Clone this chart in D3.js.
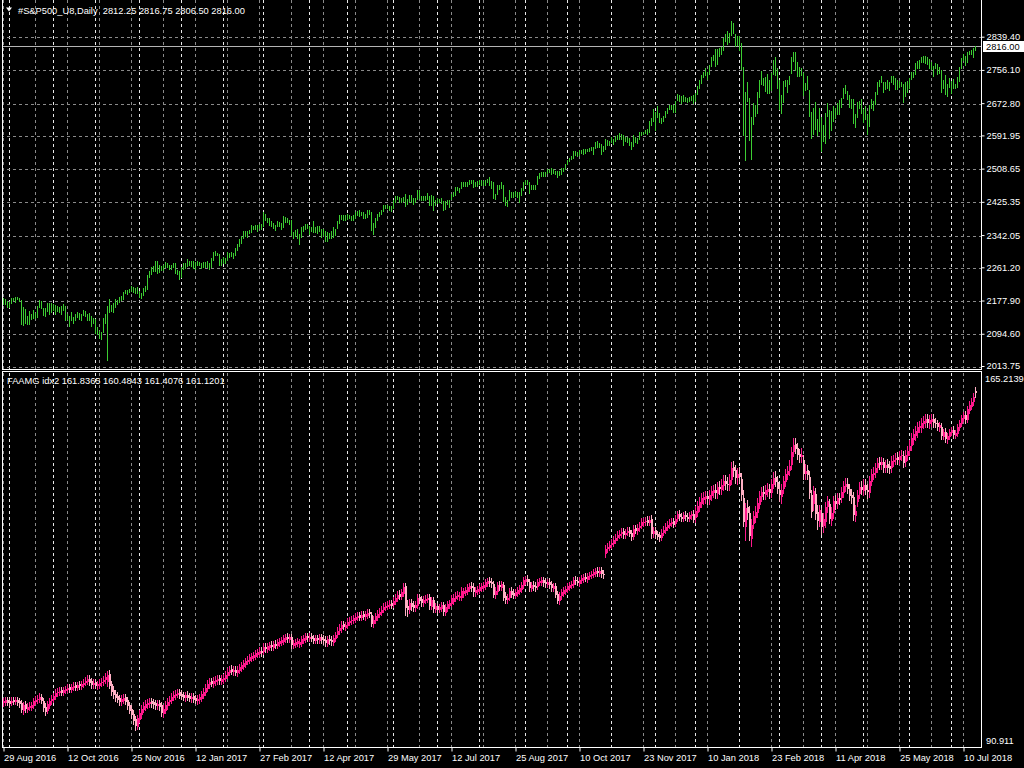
<!DOCTYPE html>
<html>
<head>
<meta charset="utf-8">
<script src="https://cdn.jsdelivr.net/npm/d3@7"></script>
<style>
    html, body { margin: 0; padding: 0; background: #000; }
    svg { display: block; font-family: "Liberation Sans", Arial, sans-serif; font-size: 9.3px; }
    text { fill: #fff; white-space: pre; }
</style>
</head>
<body>
<div id="chart-wrapper"></div>
<script>
(function (d3) {

    // S&P500 daily bars, one value per bar (Aug 2016 .. Jul 2018)
    var spxLow = [
        2170, 2170, 2161,
        2161, 2171, 2178, 2173, 2181, 2176, 2119, 2117, 2122, 2118, 2119, 2131, 2134, 2134, 2137, 2162, 2159, 2141, 2138, 2151, 2145, 2148,
        2155, 2145, 2151, 2149, 2143, 2155, 2128, 2131, 2114, 2129, 2122, 2130, 2137, 2132, 2130, 2141, 2138, 2130, 2129, 2115, 2121,
        2097, 2094, 2083, 2081, 2100, 2122, 2028, 2150, 2151, 2149, 2162, 2170, 2173, 2179, 2182, 2196, 2194, 2200, 2203, 2200, 2197, 2197,
        2187, 2183, 2192, 2202, 2208, 2236, 2244, 2251, 2253, 2248, 2249, 2254, 2254, 2261, 2261, 2256, 2258, 2262, 2248, 2244, 2232,
        2238, 2257, 2260, 2264, 2267, 2264, 2259, 2258, 2268, 2266, 2260, 2263, 2261, 2263, 2257, 2263, 2280, 2293, 2291, 2268, 2267,
        2271, 2272, 2280, 2288, 2289, 2285, 2293, 2305, 2315, 2321, 2334, 2339, 2338, 2348, 2350, 2357, 2356, 2352, 2359, 2356,
        2366, 2379, 2376, 2367, 2364, 2360, 2354, 2364, 2366, 2358, 2362, 2376, 2375, 2369, 2341, 2334, 2340, 2335, 2320, 2336, 2353, 2358, 2359,
        2345, 2351, 2350, 2350, 2348, 2351, 2336, 2341, 2328, 2327, 2335, 2334, 2337, 2343, 2360, 2372, 2382, 2381, 2380,
        2383, 2384, 2380, 2380, 2385, 2392, 2391, 2392, 2384, 2386, 2388, 2396, 2354, 2345, 2362, 2379, 2391, 2396, 2402, 2409, 2410, 2405, 2403,
        2410, 2424, 2432, 2425, 2425, 2427, 2414, 2419, 2428, 2426, 2419, 2424, 2433, 2435, 2429, 2430, 2430, 2433, 2417, 2418, 2404, 2417,
        2422, 2426, 2423, 2405, 2408, 2419, 2412, 2432, 2441, 2443, 2454, 2450, 2459, 2466, 2464, 2466, 2470, 2472, 2462, 2465, 2466,
        2469, 2467, 2468, 2468, 2474, 2468, 2460, 2436, 2432, 2445, 2458, 2461, 2428, 2418, 2416, 2430, 2438, 2437, 2440, 2437, 2425, 2443, 2456,
        2469, 2470, 2447, 2457, 2458, 2457, 2469, 2486, 2491, 2490, 2491, 2498, 2500, 2496, 2497, 2495, 2488, 2492, 2495, 2502, 2507,
        2519, 2527, 2532, 2535, 2542, 2541, 2543, 2547, 2546, 2549, 2552, 2553, 2556, 2546, 2561, 2563, 2563, 2545, 2554, 2558, 2569, 2569,
        2575, 2570, 2578, 2584, 2582, 2583, 2567, 2577, 2575, 2568, 2557, 2566, 2576, 2574, 2584, 2594, 2595, 2597, 2596, 2600, 2617, 2627,
        2605, 2637, 2626, 2624, 2627, 2638, 2647, 2657, 2659, 2650, 2650, 2680, 2679, 2674, 2678, 2677, 2676, 2677, 2680, 2672,
        2677, 2695, 2711, 2723, 2738, 2744, 2734, 2747, 2765, 2782, 2765, 2770, 2790, 2795, 2806, 2829, 2820, 2827, 2843, 2848, 2815, 2818,
        2805, 2758, 2593, 2529, 2679, 2580, 2532, 2621, 2640, 2648, 2689, 2722, 2718, 2704, 2698, 2697, 2705, 2747, 2743, 2711,
        2659, 2647, 2675, 2716, 2702, 2720, 2748, 2779, 2757, 2740, 2741, 2743, 2694, 2707, 2709, 2641, 2586, 2596, 2608, 2593, 2603,
        2553, 2578, 2574, 2641, 2586, 2605, 2627, 2635, 2645, 2645, 2664, 2686, 2699, 2682, 2662, 2660, 2624, 2612, 2638, 2660, 2647,
        2626, 2633, 2595, 2615, 2660, 2655, 2671, 2696, 2717, 2725, 2702, 2709, 2710, 2707, 2725, 2720, 2708, 2708, 2714, 2715, 2676, 2690, 2702,
        2712, 2734, 2739, 2746, 2762, 2760, 2775, 2776, 2773, 2771, 2760, 2758, 2740, 2761, 2745, 2748, 2700, 2711, 2696, 2691, 2714,
        2698, 2712, 2710, 2714, 2728, 2762, 2782, 2768, 2776, 2795, 2795, 2789, 2806
    ];

    var spxHigh = [
        2183, 2182, 2176,
        2175, 2184, 2185, 2187, 2188, 2185, 2180, 2162, 2157, 2138, 2151, 2143, 2153, 2147, 2165, 2180, 2176, 2160, 2160, 2172, 2171, 2172,
        2168, 2166, 2163, 2162, 2165, 2169, 2163, 2144, 2138, 2149, 2136, 2145, 2149, 2147, 2143, 2154, 2152, 2145, 2146, 2140, 2133,
        2131, 2111, 2101, 2099, 2135, 2145, 2165, 2182, 2166, 2172, 2181, 2179, 2188, 2189, 2200, 2205, 2205, 2207, 2214, 2213, 2210, 2213,
        2203, 2197, 2210, 2214, 2242, 2251, 2261, 2264, 2277, 2276, 2268, 2264, 2266, 2274, 2272, 2266, 2266, 2273, 2272, 2254, 2253,
        2263, 2272, 2272, 2281, 2277, 2278, 2276, 2274, 2278, 2275, 2272, 2274, 2275, 2276, 2272, 2284, 2300, 2301, 2298, 2294, 2281,
        2288, 2284, 2299, 2298, 2300, 2297, 2310, 2319, 2331, 2339, 2351, 2351, 2352, 2355, 2367, 2366, 2368, 2368, 2371, 2370,
        2401, 2395, 2386, 2384, 2377, 2373, 2368, 2377, 2375, 2372, 2390, 2388, 2386, 2380, 2381, 2350, 2355, 2356, 2345, 2362, 2364, 2371, 2369,
        2365, 2362, 2377, 2363, 2364, 2366, 2358, 2356, 2351, 2350, 2348, 2352, 2362, 2357, 2377, 2392, 2393, 2393, 2392,
        2394, 2393, 2391, 2392, 2400, 2403, 2404, 2401, 2399, 2395, 2404, 2405, 2401, 2372, 2385, 2396, 2401, 2406, 2418, 2417, 2418, 2416, 2416,
        2431, 2441, 2440, 2437, 2435, 2438, 2446, 2433, 2442, 2443, 2436, 2436, 2454, 2454, 2441, 2440, 2441, 2448, 2441, 2442, 2440, 2431,
        2435, 2432, 2435, 2427, 2428, 2431, 2430, 2446, 2449, 2462, 2462, 2461, 2475, 2476, 2474, 2475, 2480, 2480, 2481, 2474, 2477,
        2479, 2481, 2478, 2480, 2482, 2487, 2477, 2474, 2446, 2468, 2468, 2475, 2468, 2437, 2431, 2454, 2449, 2451, 2453, 2449, 2449, 2459, 2474,
        2481, 2479, 2476, 2468, 2468, 2468, 2490, 2497, 2499, 2499, 2501, 2507, 2507, 2509, 2508, 2503, 2503, 2502, 2510, 2511, 2520,
        2530, 2535, 2540, 2553, 2552, 2550, 2555, 2556, 2557, 2557, 2559, 2561, 2564, 2563, 2576, 2579, 2572, 2570, 2566, 2583, 2580, 2578,
        2589, 2583, 2590, 2593, 2597, 2596, 2594, 2587, 2588, 2586, 2576, 2592, 2588, 2586, 2601, 2601, 2600, 2606, 2607, 2628, 2635, 2657,
        2650, 2665, 2648, 2635, 2641, 2653, 2661, 2667, 2669, 2669, 2678, 2695, 2692, 2691, 2693, 2687, 2685, 2688, 2690, 2692,
        2697, 2715, 2730, 2744, 2750, 2760, 2752, 2768, 2789, 2793, 2808, 2808, 2810, 2813, 2836, 2845, 2853, 2848, 2878, 2874, 2845, 2840,
        2840, 2823, 2763, 2701, 2727, 2685, 2638, 2672, 2668, 2702, 2731, 2754, 2736, 2739, 2747, 2731, 2748, 2781, 2789, 2761,
        2730, 2694, 2728, 2732, 2730, 2741, 2788, 2802, 2802, 2775, 2764, 2762, 2749, 2724, 2740, 2706, 2651, 2661, 2675, 2632, 2660,
        2639, 2619, 2649, 2673, 2656, 2653, 2665, 2661, 2674, 2680, 2686, 2710, 2718, 2703, 2694, 2683, 2683, 2645, 2676, 2677, 2683,
        2658, 2665, 2642, 2667, 2684, 2677, 2702, 2726, 2732, 2742, 2726, 2727, 2731, 2726, 2740, 2741, 2735, 2732, 2729, 2725, 2720, 2726, 2729,
        2737, 2750, 2752, 2773, 2778, 2780, 2789, 2791, 2792, 2789, 2784, 2777, 2767, 2774, 2770, 2764, 2755, 2732, 2743, 2722, 2737,
        2729, 2734, 2720, 2739, 2764, 2786, 2796, 2790, 2801, 2804, 2805, 2812, 2817
    ];

    // FAAMG idx2 candles
    var faamgOpen = [
        99.9, 100.0, 100.3, 100.1, 99.9, 100.3, 100.1, 100.4, 100.1, 99.7,
        98.4, 99.5, 98.7, 99.1, 99.1, 99.4, 100.1, 100.5, 100.5, 101.0,
        100.1, 99.1, 98.4, 99.4, 100.3, 100.5, 101.1, 101.9, 101.9, 102.3,
        102.0, 102.3, 102.5, 102.9, 102.5, 103.0, 103.3, 103.0, 103.5, 103.2,
        103.6, 103.9, 104.1, 104.6, 104.1, 103.5, 103.9, 103.3, 103.4, 103.9,
        104.1, 104.5, 104.2, 105.6, 103.5, 102.4, 101.6, 101.2, 100.7, 100.1,
        100.4, 100.9, 100.3, 99.3, 98.6, 97.7, 96.6, 95.3, 96.7, 97.6,
        98.7, 99.1, 99.5, 99.7, 100.1, 99.9, 99.7, 99.3, 99.7, 99.3,
        97.9, 98.5, 99.3, 100.1, 100.3, 100.9, 101.3, 101.5, 101.9, 101.6,
        101.3, 100.9, 101.4, 101.1, 100.7, 101.1, 100.7, 100.3, 100.5, 100.8,
        101.4, 101.9, 102.7, 103.5, 104.1, 103.7, 104.1, 104.3, 104.7, 104.2,
        104.5, 104.7, 105.3, 105.9, 106.5, 106.1, 106.4, 105.9, 106.3, 106.7,
        107.1, 107.5, 108.1, 108.2, 108.7, 108.9, 109.1, 109.5, 109.7, 110.1,
        110.0, 110.9, 110.5, 110.9, 111.3, 110.9, 111.5, 111.2, 111.7, 111.9,
        112.1, 112.5, 112.9, 112.5, 112.9, 111.3, 111.5, 111.7, 111.5, 111.7,
        112.3, 112.5, 113.1, 112.7, 113.0, 112.7, 112.2, 112.7, 112.3, 112.9,
        112.5, 112.3, 111.7, 112.5, 112.3, 111.9, 112.7, 113.4, 114.1, 114.5,
        115.3, 114.8, 115.2, 115.7, 116.1, 116.1, 116.4, 116.7, 117.1, 116.7,
        117.3, 116.9, 117.2, 117.7, 117.2, 115.5, 116.1, 116.8, 117.3, 117.7,
        118.3, 118.7, 118.9, 119.1, 119.5, 119.3, 119.9, 120.5, 121.3, 120.9,
        121.5, 122.8, 119.0, 118.3, 119.6, 119.1, 118.7, 119.1, 120.7, 120.3,
        119.7, 120.1, 120.3, 120.7, 119.0, 120.2, 118.4, 119.0, 118.3, 118.6,
        119.2, 117.8, 118.6, 119.2, 119.6, 119.9, 120.5, 120.9, 120.8, 120.8,
        121.5, 121.7, 121.9, 122.5, 122.9, 122.7, 121.7, 121.9, 122.1, 122.5,
        122.7, 122.9, 123.5, 123.9, 123.7, 123.3, 121.3, 121.9, 123.1, 122.7,
        123.1, 120.9, 120.3, 120.7, 121.9, 121.5, 121.1, 121.5, 121.9, 122.3,
        123.1, 123.9, 124.3, 123.7, 122.5, 123.1, 122.9, 122.9, 123.7, 123.7,
        124.1, 123.7, 123.3, 123.7, 123.3, 122.5, 122.9, 121.3, 120.1, 121.1,
        121.5, 121.9, 122.3, 122.7, 123.1, 123.3, 124.1, 123.9, 123.5, 124.1,
        124.3, 124.7, 124.3, 124.9, 125.1, 125.3, 125.5, 125.9, 125.5, 126.0,
        125.3, 129.4, 130.3, 130.5, 131.1, 131.3, 131.9, 132.5, 132.9, 133.3,
        133.7, 133.1, 133.5, 133.9, 133.3, 132.7, 134.3, 133.9, 134.5, 134.9,
        135.5, 135.7, 135.9, 135.5, 136.1, 133.3, 133.9, 133.1, 132.9, 132.5,
        133.5, 133.9, 134.5, 134.9, 135.3, 135.7, 135.3, 136.3, 137.1, 136.5,
        136.3, 136.9, 136.5, 136.3, 136.9, 137.1, 136.5, 137.5, 138.5, 139.3,
        140.1, 140.3, 140.7, 140.1, 140.9, 141.5, 141.9, 141.3, 142.5, 142.1,
        142.9, 143.7, 143.1, 142.9, 144.0, 146.3, 145.7, 144.3, 145.1, 144.0,
        140.2, 134.8, 138.4, 137.2, 132.4, 135.3, 136.5, 137.5, 139.1, 140.7,
        141.5, 141.1, 141.7, 142.1, 141.5, 143.1, 144.3, 143.5, 141.9, 140.6,
        142.2, 143.7, 144.9, 145.7, 146.9, 149.5, 150.9, 150.1, 148.9, 148.5,
        147.8, 145.1, 145.7, 144.4, 140.8, 139.2, 141.0, 137.4, 135.8, 137.2,
        135.0, 135.8, 138.6, 139.0, 136.0, 137.4, 139.7, 139.3, 140.3, 140.4,
        141.5, 142.7, 143.1, 142.1, 140.9, 140.5, 136.9, 139.6, 141.2, 142.5,
        141.9, 142.9, 141.9, 141.4, 143.7, 144.9, 145.3, 146.3, 147.3, 146.9,
        147.3, 146.3, 146.9, 146.5, 146.3, 147.5, 147.9, 148.3, 147.9, 148.7,
        148.6, 147.5, 148.7, 149.7, 150.7, 151.9, 152.7, 153.3, 154.3, 154.3,
        155.1, 155.3, 155.9, 155.1, 155.5, 155.9, 155.1, 155.0, 154.2, 154.3,
        152.5, 153.3, 151.9, 152.5, 153.3, 153.7, 152.7, 153.1, 154.3, 155.1,
        156.1, 156.7, 155.9, 157.7, 158.5, 159.3, 161.4
    ];

    var faamgHigh = [
        100.8, 101.0, 100.9, 100.7, 100.9, 101.0, 101.0, 101.0, 100.7, 100.3,
        100.0, 100.1, 99.7, 99.9, 100.0, 100.8, 101.1, 101.3, 101.7, 101.6,
        100.7, 99.7, 100.1, 100.8, 101.3, 101.8, 102.5, 102.7, 102.9, 102.9,
        103.0, 103.2, 103.5, 103.5, 103.6, 103.9, 103.9, 104.0, 104.1, 104.2,
        104.5, 104.9, 105.3, 105.3, 104.7, 104.5, 104.5, 104.2, 104.5, 104.7,
        105.1, 105.7, 106.2, 106.3, 104.2, 103.1, 102.3, 101.9, 101.4, 101.3,
        101.5, 101.6, 100.9, 100.0, 99.3, 98.4, 97.3, 97.5, 98.5, 99.3,
        99.9, 100.3, 100.5, 100.7, 100.8, 100.6, 100.4, 100.3, 100.3, 99.9,
        99.3, 100.1, 100.7, 101.1, 101.7, 102.1, 102.3, 102.6, 102.5, 102.3,
        102.0, 102.0, 102.1, 101.8, 101.7, 101.7, 101.4, 101.3, 101.6, 102.2,
        102.7, 103.5, 104.3, 104.7, 104.8, 104.9, 105.1, 105.3, 105.3, 105.3,
        105.5, 106.1, 106.7, 107.1, 107.2, 107.0, 107.1, 107.1, 107.5, 107.9,
        108.3, 108.7, 109.0, 109.5, 109.7, 109.9, 110.3, 110.5, 110.8, 110.8,
        111.6, 111.6, 111.7, 111.9, 112.0, 112.1, 112.2, 112.5, 112.7, 112.9,
        113.3, 113.5, 113.6, 113.5, 113.5, 112.3, 112.5, 112.7, 112.5, 113.1,
        113.3, 113.7, 113.7, 113.6, 113.6, 113.3, 113.3, 113.3, 113.5, 113.5,
        113.2, 113.0, 113.1, 113.2, 113.0, 113.3, 113.9, 114.7, 115.3, 115.9,
        116.0, 115.8, 116.5, 116.7, 116.9, 117.2, 117.5, 117.7, 117.8, 117.9,
        118.0, 118.0, 118.3, 118.4, 117.8, 116.9, 117.6, 118.1, 118.5, 118.9,
        119.5, 119.7, 119.9, 120.2, 120.2, 120.7, 121.3, 121.9, 122.0, 122.3,
        123.4, 123.5, 120.2, 120.3, 120.4, 119.9, 120.0, 121.3, 121.4, 121.0,
        120.9, 121.2, 121.4, 121.3, 120.8, 120.8, 119.6, 119.6, 119.4, 119.8,
        119.8, 119.4, 120.0, 120.2, 121.2, 121.3, 121.7, 121.9, 121.6, 122.6,
        122.5, 122.7, 123.3, 123.5, 123.6, 123.4, 122.7, 122.9, 123.3, 123.5,
        123.7, 124.3, 124.5, 124.6, 124.4, 123.9, 122.6, 123.7, 123.8, 123.9,
        123.7, 121.6, 121.3, 122.5, 122.6, 122.2, 122.3, 122.7, 123.1, 123.7,
        124.7, 124.9, 125.0, 124.3, 123.7, 123.8, 123.6, 124.3, 124.5, 124.7,
        124.7, 124.4, 124.3, 124.4, 123.9, 123.5, 123.5, 121.9, 121.7, 122.3,
        122.7, 122.9, 123.5, 123.7, 123.9, 124.7, 124.8, 124.6, 124.7, 125.1,
        125.3, 125.4, 125.5, 125.7, 125.9, 126.3, 126.5, 126.6, 126.6, 126.7,
        126.1, 131.0, 131.3, 131.7, 132.1, 132.7, 133.1, 133.7, 134.0, 134.3,
        134.4, 134.1, 134.5, 134.6, 134.0, 134.9, 135.0, 135.1, 135.5, 136.3,
        136.3, 136.5, 136.6, 136.7, 136.8, 134.5, 134.6, 133.8, 133.6, 134.1,
        134.7, 135.3, 135.7, 136.1, 136.3, 136.4, 136.9, 137.7, 137.8, 137.2,
        137.5, 137.6, 137.2, 137.5, 137.7, 137.8, 138.6, 139.6, 140.4, 141.2,
        141.5, 141.7, 141.7, 141.8, 142.6, 142.9, 143.0, 143.5, 143.6, 143.9,
        144.7, 144.8, 144.3, 144.9, 147.3, 147.6, 146.7, 146.2, 146.3, 145.1,
        141.9, 139.3, 139.9, 138.7, 136.1, 137.7, 138.6, 140.3, 141.7, 142.5,
        142.6, 142.9, 143.2, 143.1, 144.0, 145.3, 145.5, 144.6, 143.0, 143.1,
        144.6, 146.0, 146.6, 147.7, 150.4, 152.0, 152.1, 151.2, 150.0, 150.1,
        148.7, 146.9, 146.8, 145.5, 141.9, 142.6, 142.3, 138.9, 138.9, 138.3,
        137.3, 139.4, 140.7, 140.1, 138.4, 140.6, 140.8, 141.2, 141.3, 142.4,
        143.6, 144.1, 144.2, 143.1, 142.1, 141.5, 138.9, 141.8, 143.5, 143.6,
        143.9, 143.9, 143.0, 144.6, 146.0, 146.3, 147.2, 148.2, 148.3, 148.4,
        148.2, 147.8, 147.9, 147.5, 148.6, 148.8, 149.2, 149.3, 149.6, 149.8,
        149.6, 149.8, 150.6, 151.6, 153.0, 153.8, 154.4, 155.2, 155.5, 156.0,
        156.4, 156.8, 156.9, 156.6, 156.8, 156.9, 156.1, 155.7, 155.3, 155.0,
        153.9, 154.0, 153.1, 153.9, 154.3, 154.4, 153.7, 154.9, 155.7, 156.7,
        157.3, 157.4, 158.5, 159.3, 159.9, 160.9, 162.1
    ];

    var faamgLow = [
        99.2, 99.4, 99.4, 99.1, 99.3, 99.5, 99.5, 99.3, 99.1, 98.0,
        97.7, 98.1, 98.0, 98.4, 98.4, 98.8, 99.5, 99.8, 99.9, 99.7,
        98.3, 97.5, 97.8, 98.8, 99.6, 99.9, 100.5, 101.2, 101.3, 101.3,
        101.4, 101.7, 101.9, 101.9, 101.9, 102.4, 102.4, 102.4, 102.6, 102.6,
        102.9, 103.3, 103.5, 103.4, 102.8, 102.8, 102.7, 102.6, 102.8, 103.2,
        103.4, 103.8, 103.2, 102.7, 101.4, 100.7, 100.2, 99.9, 99.4, 99.3,
        99.7, 99.5, 98.7, 97.8, 96.9, 95.6, 94.5, 94.6, 96.0, 96.9,
        98.0, 98.5, 98.9, 99.1, 99.1, 98.9, 98.7, 98.7, 98.5, 97.2,
        97.1, 97.9, 98.7, 99.4, 99.7, 100.3, 100.6, 100.9, 100.7, 100.5,
        100.3, 100.2, 100.3, 100.1, 100.0, 99.9, 99.7, 99.6, 99.8, 100.2,
        100.8, 101.3, 102.1, 102.8, 103.1, 103.0, 103.4, 103.6, 103.6, 103.6,
        103.8, 104.1, 104.7, 105.3, 105.5, 105.4, 105.3, 105.2, 105.7, 106.1,
        106.5, 106.9, 107.4, 107.6, 108.1, 108.3, 108.5, 108.9, 109.1, 109.1,
        109.4, 109.9, 109.9, 110.3, 110.3, 110.3, 110.6, 110.6, 111.1, 111.3,
        111.5, 111.9, 111.9, 111.9, 110.7, 110.6, 110.8, 111.0, 110.8, 111.1,
        111.6, 111.9, 112.1, 112.0, 112.0, 111.6, 111.6, 111.7, 111.7, 111.7,
        111.5, 111.1, 111.0, 111.5, 111.3, 111.3, 112.1, 112.8, 113.5, 113.9,
        114.3, 114.1, 114.6, 115.1, 115.4, 115.5, 115.8, 116.1, 116.1, 116.1,
        116.3, 116.2, 116.6, 116.8, 114.9, 114.7, 115.5, 116.2, 116.7, 117.1,
        117.7, 118.1, 118.3, 118.5, 118.5, 118.7, 119.3, 119.9, 120.3, 120.3,
        120.9, 117.2, 117.0, 117.5, 118.2, 118.0, 118.0, 118.5, 119.5, 119.0,
        119.0, 119.5, 119.7, 118.4, 118.3, 117.8, 117.7, 117.6, 117.7, 118.0,
        117.2, 117.2, 118.0, 118.6, 119.0, 119.3, 119.9, 120.3, 120.1, 120.2,
        120.8, 121.1, 121.3, 121.9, 121.9, 121.0, 121.0, 121.3, 121.5, 121.9,
        122.0, 122.3, 122.9, 122.9, 122.7, 120.7, 120.6, 121.3, 122.1, 122.0,
        120.2, 119.6, 119.6, 120.1, 120.7, 120.5, 120.5, 120.9, 121.3, 121.7,
        122.5, 123.3, 123.1, 121.9, 121.8, 122.1, 121.9, 122.3, 123.0, 123.1,
        122.9, 122.7, 122.7, 122.5, 121.9, 121.8, 120.7, 119.5, 119.4, 120.4,
        120.9, 121.3, 121.7, 122.1, 122.5, 122.7, 123.3, 123.0, 122.9, 123.5,
        123.7, 123.8, 123.7, 124.3, 124.5, 124.7, 124.9, 124.9, 124.9, 124.7,
        124.4, 128.7, 129.6, 129.9, 130.4, 130.7, 131.3, 131.9, 132.3, 132.6,
        132.4, 132.4, 132.9, 132.7, 132.0, 132.1, 133.3, 133.2, 133.8, 134.3,
        134.8, 135.0, 134.9, 134.9, 132.4, 132.5, 132.4, 132.1, 131.7, 131.9,
        132.9, 133.3, 133.9, 134.3, 134.7, 134.5, 134.7, 135.7, 135.9, 135.7,
        135.7, 135.9, 135.7, 135.7, 136.2, 135.5, 135.5, 136.6, 137.6, 138.4,
        139.0, 139.3, 139.1, 139.1, 139.9, 140.5, 140.3, 140.3, 141.1, 141.1,
        141.9, 142.1, 141.8, 141.9, 143.1, 144.6, 143.2, 143.1, 143.4, 139.8,
        134.7, 131.9, 136.1, 131.9, 130.7, 134.3, 135.5, 136.5, 138.2, 139.7,
        140.1, 140.1, 140.7, 140.3, 140.5, 142.2, 142.6, 141.3, 139.6, 139.3,
        141.2, 142.7, 143.9, 144.8, 146.0, 148.5, 149.1, 148.0, 147.3, 147.4,
        143.9, 143.9, 143.9, 140.3, 136.5, 137.9, 136.1, 134.1, 134.7, 133.1,
        133.5, 134.5, 137.5, 135.3, 134.9, 136.4, 138.1, 138.3, 139.0, 139.4,
        140.5, 141.7, 141.2, 139.8, 139.2, 135.9, 135.8, 138.6, 140.2, 141.0,
        140.9, 141.0, 140.2, 140.4, 142.8, 143.9, 144.3, 145.4, 146.0, 145.9,
        145.4, 145.3, 145.4, 145.2, 145.3, 146.5, 146.9, 147.0, 146.9, 147.7,
        146.3, 146.5, 147.8, 148.8, 149.8, 151.0, 151.7, 152.3, 153.2, 153.3,
        154.1, 154.3, 154.2, 154.1, 154.5, 154.2, 154.3, 153.7, 153.5, 151.9,
        151.8, 151.3, 151.2, 151.8, 152.6, 152.1, 152.0, 152.4, 153.6, 154.4,
        155.4, 155.1, 155.2, 157.0, 157.8, 158.6, 160.2
    ];

    var faamgClose = [
        100.1, 100.3, 100.0, 99.8, 100.2, 100.1, 100.3, 100.0, 99.8, 98.6,
        99.4, 98.8, 99.0, 99.2, 99.3, 100.2, 100.4, 100.6, 100.9, 100.3,
        99.0, 98.3, 99.5, 100.2, 100.6, 101.2, 101.8, 101.9, 102.2, 102.0,
        102.4, 102.6, 102.8, 102.6, 103.0, 103.2, 103.0, 103.4, 103.3, 103.6,
        103.8, 104.2, 104.5, 104.0, 103.6, 103.8, 103.4, 103.5, 103.8, 104.0,
        104.4, 105.0, 105.4, 103.4, 102.2, 101.5, 101.0, 100.6, 100.2, 100.5,
        100.8, 100.2, 99.4, 98.5, 97.6, 96.4, 95.4, 96.8, 97.8, 98.6,
        99.2, 99.6, 99.8, 100.0, 99.8, 99.6, 99.4, 99.6, 99.2, 98.0,
        98.6, 99.4, 100.0, 100.4, 101.0, 101.4, 101.6, 101.8, 101.4, 101.2,
        101.0, 101.3, 101.0, 100.8, 101.0, 100.6, 100.4, 100.6, 100.9, 101.5,
        102.0, 102.8, 103.6, 104.0, 103.8, 104.2, 104.4, 104.6, 104.3, 104.6,
        104.8, 105.4, 106.0, 106.4, 106.2, 106.3, 106.0, 106.4, 106.8, 107.2,
        107.6, 108.0, 108.3, 108.8, 109.0, 109.2, 109.6, 109.8, 110.0, 109.8,
        110.8, 110.6, 111.0, 111.2, 111.0, 111.4, 111.3, 111.8, 112.0, 112.2,
        112.6, 112.8, 112.6, 112.8, 111.4, 111.6, 111.8, 112.0, 111.8, 112.4,
        112.6, 113.0, 112.8, 112.9, 112.6, 112.3, 112.6, 112.4, 112.8, 112.4,
        112.2, 111.8, 112.4, 112.2, 112.0, 112.6, 113.2, 114.0, 114.6, 115.2,
        115.0, 115.1, 115.8, 116.0, 116.2, 116.5, 116.8, 117.0, 116.8, 117.2,
        117.0, 117.3, 117.6, 117.5, 115.6, 116.2, 116.9, 117.4, 117.8, 118.2,
        118.8, 119.0, 119.2, 119.4, 119.2, 120.0, 120.6, 121.2, 121.0, 121.6,
        122.6, 118.8, 118.4, 119.5, 119.0, 118.8, 119.2, 120.6, 120.2, 119.8,
        120.2, 120.4, 120.6, 119.1, 120.1, 118.5, 118.9, 118.4, 118.7, 119.1,
        117.9, 118.7, 119.3, 119.5, 120.5, 120.6, 121.0, 121.2, 120.9, 121.9,
        121.8, 122.0, 122.6, 122.8, 122.6, 121.8, 122.0, 122.2, 122.6, 122.8,
        123.0, 123.6, 123.8, 123.6, 123.4, 121.4, 121.8, 123.0, 122.8, 123.2,
        120.8, 120.4, 120.6, 121.8, 121.4, 121.2, 121.6, 122.0, 122.4, 123.0,
        124.0, 124.2, 123.8, 122.6, 123.0, 122.8, 122.6, 123.6, 123.8, 124.0,
        123.6, 123.4, 123.6, 123.2, 122.6, 122.8, 121.4, 120.2, 121.0, 121.6,
        122.0, 122.2, 122.8, 123.0, 123.2, 124.0, 124.0, 123.6, 124.0, 124.4,
        124.6, 124.4, 124.8, 125.0, 125.2, 125.6, 125.8, 125.6, 125.9, 125.4,
        125.2, 130.2, 130.6, 131.0, 131.4, 132.0, 132.4, 133.0, 133.2, 133.6,
        133.2, 133.4, 133.8, 133.4, 132.8, 134.2, 134.0, 134.4, 134.8, 135.6,
        135.6, 135.8, 135.6, 136.0, 133.4, 133.8, 133.2, 132.8, 132.6, 133.4,
        134.0, 134.6, 135.0, 135.4, 135.6, 135.2, 136.2, 137.0, 136.6, 136.4,
        136.8, 136.6, 136.4, 136.8, 137.0, 136.2, 137.6, 138.6, 139.4, 140.2,
        140.4, 140.6, 140.2, 140.8, 141.6, 141.8, 141.4, 142.4, 142.2, 142.8,
        143.6, 143.2, 143.0, 143.8, 146.2, 145.8, 144.4, 145.0, 144.6, 141.0,
        135.8, 138.2, 137.4, 133.0, 135.0, 136.6, 137.4, 139.2, 140.6, 141.4,
        141.2, 141.8, 142.0, 141.4, 143.0, 144.2, 143.6, 142.2, 141.0, 141.8,
        143.6, 145.0, 145.6, 146.6, 149.4, 150.8, 150.2, 149.0, 148.6, 148.8,
        145.2, 145.6, 145.0, 141.4, 137.6, 141.6, 137.2, 136.0, 137.8, 134.8,
        136.2, 138.4, 139.6, 136.4, 137.2, 139.6, 139.2, 140.2, 140.0, 141.4,
        142.6, 143.0, 142.2, 140.8, 140.4, 137.0, 137.6, 140.8, 142.4, 142.0,
        142.8, 142.0, 141.6, 143.6, 145.0, 145.2, 146.2, 147.2, 147.0, 147.4,
        146.4, 146.8, 146.4, 146.2, 147.6, 147.8, 148.2, 148.0, 148.6, 148.8,
        147.4, 148.8, 149.6, 150.6, 152.0, 152.8, 153.4, 154.2, 154.4, 155.0,
        155.4, 155.8, 155.2, 155.6, 155.8, 155.2, 155.0, 154.4, 154.6, 152.6,
        153.2, 152.0, 152.4, 153.2, 153.6, 152.8, 153.0, 154.2, 155.0, 156.0,
        156.6, 155.8, 157.8, 158.6, 159.2, 160.2, 161.1
    ];

    // first bar of each month (period separators)
    var monthStarts = [3, 25, 46, 68, 89, 110, 130, 153, 172, 195, 217, 238, 261, 282,
        304, 326, 346, 368, 388, 409, 430, 453, 474];

    var dateLabels = ['29 Aug 2016', '12 Oct 2016', '25 Nov 2016', '12 Jan 2017', '27 Feb 2017',
        '12 Apr 2017', '29 May 2017', '12 Jul 2017', '25 Aug 2017', '10 Oct 2017', '23 Nov 2017',
        '10 Jan 2018', '23 Feb 2018', '11 Apr 2018', '25 May 2018', '10 Jul 2018'];

    var priceTicks = [2839.40, 2756.10, 2672.80, 2591.95, 2508.65, 2425.35, 2342.05,
        2261.20, 2177.90, 2094.60, 2013.75];

    var faamgRange = [90.911, 165.2139];
    var spxLast = [2812.25, 2816.75, 2806.50, 2816.00];
    var faamgLast = [161.8365, 160.4843, 161.4076, 161.1201];

    var width = 1024,
        height = 768;

    var left = 2.5,
        right = 981.5,
        topPaneBottom = 369,
        lowPaneTop = 371.5,
        lowPaneBottom = 748;

    var gridGray = '#8a8a8a',
        gridWhite = '#e8e8e8',
        barGreen = 'rgb(60, 205, 50)',
        bullPink = 'rgb(255, 24, 140)',
        bearPink = 'rgb(255, 176, 196)';

    var xScale = d3.scaleLinear().domain([0, 487]).range([3, 977]);
    var yTop = d3.scaleLinear().domain([2013.75, 2839.40]).range([366, 36.7]);
    var yLow = d3.scaleLinear().domain(faamgRange).range([lowPaneBottom, lowPaneTop]);

    var svg = d3.select('#chart-wrapper')
        .append('svg')
        .attr('width', width)
        .attr('height', height)
        .style('background', '#000');

    var gridSteps = d3.range(0, spxLow.length, 16);

    function verticalGrid(y0, y1) {
        var g = svg.append('g').attr('shape-rendering', 'crispEdges');
        g.selectAll('line.grid')
            .data(gridSteps)
            .join('line')
            .attr('class', 'grid')
            .attr('x1', function (d) { return xScale(d) + 0.5; })
            .attr('x2', function (d) { return xScale(d) + 0.5; })
            .attr('y1', y0)
            .attr('y2', y1)
            .style('stroke', gridGray)
            .style('stroke-dasharray', '3,3');
        g.selectAll('line.sep')
            .data(monthStarts)
            .join('line')
            .attr('class', 'sep')
            .attr('x1', function (d) { return xScale(d) + 0.5; })
            .attr('x2', function (d) { return xScale(d) + 0.5; })
            .attr('y1', y0)
            .attr('y2', y1)
            .style('stroke', gridWhite)
            .style('stroke-dasharray', '3,3');
    }

    verticalGrid(0, topPaneBottom);
    verticalGrid(lowPaneTop + 1, lowPaneBottom);

    // horizontal grid, top pane
    svg.append('g')
        .attr('transform', 'translate(' + right + ',0)')
        .attr('shape-rendering', 'crispEdges')
        .call(d3.axisRight(yTop)
            .tickValues(priceTicks)
            .tickSizeInner(-(right - left))
            .tickSizeOuter(0)
            .tickFormat(''))
        .call(function (g) {
            g.select('.domain').remove();
            g.selectAll('.tick line')
                .style('stroke', gridGray)
                .style('stroke-dasharray', '3,3')
                .attr('transform', 'translate(0,0.5)');
        });

    // bid line
    svg.append('line')
        .attr('x1', left)
        .attr('x2', right)
        .attr('y1', Math.round(yTop(spxLast[3])) + 0.5)
        .attr('y2', Math.round(yTop(spxLast[3])) + 0.5)
        .style('stroke', '#b4b4b4')
        .attr('shape-rendering', 'crispEdges');

    // S&P bars
    svg.append('g')
        .attr('class', 'spx-bars')
        .attr('shape-rendering', 'crispEdges')
        .selectAll('rect')
        .data(spxLow)
        .join('rect')
        .attr('x', function (d, i) { return xScale(i); })
        .attr('width', 1)
        .attr('y', function (d, i) { return Math.round(yTop(spxHigh[i])); })
        .attr('height', function (d, i) {
            return Math.max(1, Math.round(yTop(d)) - Math.round(yTop(spxHigh[i])) + 1);
        })
        .style('fill', barGreen);

    // FAAMG candles: wick then body
    var candles = svg.append('g')
        .attr('class', 'faamg-candles')
        .attr('shape-rendering', 'crispEdges')
        .selectAll('g')
        .data(faamgClose)
        .join('g')
        .style('fill', function (d, i) { return d >= faamgOpen[i] ? bullPink : bearPink; });

    candles.append('rect')
        .attr('x', function (d, i) { return xScale(i); })
        .attr('width', 1)
        .attr('y', function (d, i) { return Math.round(yLow(faamgHigh[i])); })
        .attr('height', function (d, i) {
            return Math.max(1, Math.round(yLow(faamgLow[i])) - Math.round(yLow(faamgHigh[i])) + 1);
        });

    candles.append('rect')
        .attr('x', function (d, i) { return xScale(i); })
        .attr('width', 2)
        .attr('y', function (d, i) { return Math.round(yLow(Math.max(d, faamgOpen[i]))); })
        .attr('height', function (d, i) {
            var hi = Math.round(yLow(Math.max(d, faamgOpen[i])));
            var lo = Math.round(yLow(Math.min(d, faamgOpen[i])));
            return Math.max(1, lo - hi + 1);
        });

    // pane frames
    var frame = svg.append('g')
        .style('fill', 'none')
        .style('stroke', '#fff')
        .attr('shape-rendering', 'crispEdges');

    frame.append('path')
        .attr('d', 'M' + left + ',0V' + (topPaneBottom + 0.5) + 'H' + right + 'V0');
    frame.append('path')
        .attr('d', 'M' + left + ',' + lowPaneTop + 'H' + right + 'V' + (lowPaneBottom - 0.5) +
            'H' + left + 'Z');

    // right price labels
    svg.append('g')
        .attr('transform', 'translate(' + right + ',0)')
        .call(d3.axisRight(yTop)
            .tickValues(priceTicks)
            .tickSizeInner(3)
            .tickSizeOuter(0)
            .tickPadding(2)
            .tickFormat(d3.format('.2f')))
        .call(function (g) {
            g.select('.domain').remove();
            g.selectAll('.tick line').style('stroke', '#fff');
            g.selectAll('.tick text')
                .style('fill', '#fff')
                .style('font-family', 'inherit')
                .style('font-size', '9.3px');
        });

    // current price box
    var bidY = Math.round(yTop(spxLast[3]));
    svg.append('rect')
        .attr('x', 983)
        .attr('y', bidY - 5)
        .attr('width', 41)
        .attr('height', 11)
        .style('fill', '#fff');
    svg.append('text')
        .attr('x', 986)
        .attr('y', bidY + 3.5)
        .style('fill', '#000')
        .text(spxLast[3].toFixed(2));

    // lower pane scale
    svg.append('text')
        .attr('x', 985)
        .attr('y', yLow(faamgRange[1]) + 10)
        .text(faamgRange[1].toFixed(4));
    svg.append('text')
        .attr('x', 986)
        .attr('y', yLow(faamgRange[0]) - 4)
        .text(String(faamgRange[0]));

    // time axis
    svg.append('g')
        .attr('transform', 'translate(0.5,' + (lowPaneBottom - 0.5) + ')')
        .call(d3.axisBottom(xScale)
            .tickValues(d3.range(0, spxLow.length, 32))
            .tickSizeInner(4)
            .tickSizeOuter(0)
            .tickPadding(3)
            .tickFormat(function (d, i) { return dateLabels[i]; }))
        .call(function (g) {
            g.select('.domain').remove();
            g.selectAll('.tick line').style('stroke', '#fff');
            g.selectAll('.tick text')
                .style('fill', '#fff')
                .attr('text-anchor', 'start')
                .attr('x', 0)
                .style('font-family', 'inherit')
                .style('font-size', '9.3px');
        });

    // pane titles
    svg.append('path')
        .attr('d', 'M6,7.5L12,7.5L9,11.5Z')
        .style('fill', '#fff');
    svg.append('text')
        .attr('x', 18)
        .attr('y', 14)
        .text('#S&P500_U8,Daily  ' + spxLast.map(function (v) { return v.toFixed(2); }).join(' '));
    svg.append('text')
        .attr('x', 7)
        .attr('y', 384)
        .text('FAAMG idx2 ' + faamgLast.map(function (v) { return v.toFixed(4); }).join(' '));

})(d3);
</script>
</body>
</html>
